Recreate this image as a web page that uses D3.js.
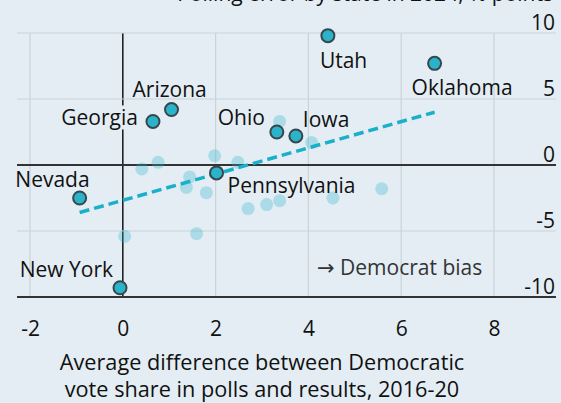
<!DOCTYPE html>
<html>
<head>
<meta charset="utf-8">
<script src="https://cdn.jsdelivr.net/npm/d3@7"></script>
<style>
  body { margin: 0; background: #e3edf3; }
  text { font-family: "Open Sans", sans-serif; }
</style>
</head>
<body>
<div id="chart"></div>
<script>
// named states (highlighted)
let stateNames = ["Utah", "Oklahoma", "Arizona", "Georgia", "Ohio", "Iowa", "Pennsylvania", "Nevada", "New York"];
let stateX = [4.42, 6.72, 1.05, 0.65, 3.32, 3.73, 2.02, -0.93, -0.06];
let stateY = [9.8, 7.7, 4.2, 3.3, 2.5, 2.2, -0.6, -2.5, -9.3];

// other states (faded)
let otherX = [0.41, 0.76, 1.98, 2.48, 1.44, 1.37, 1.80, 0.04, 1.59, 2.70, 3.10, 3.38, 4.53, 5.58, 4.07, 3.38];
let otherY = [-0.3, 0.2, 0.7, 0.2, -0.9, -1.7, -2.1, -5.4, -5.2, -3.3, -3.0, -2.7, -2.5, -1.8, 1.7, 3.3];

// fitted trend line end points
let trendX = [-0.93, 6.72];
let trendY = [-3.6, 4.0];

let xTicks = [-2, 0, 2, 4, 6, 8];
let yTicks = [-10, -5, 0, 5, 10];

let width = 561;
let height = 403;

// label placement relative to each point
let labelPos = {
    "Utah":         {dx: -8,  dy: 32,  anchor: "start"},
    "Oklahoma":     {dx: -23, dy: 32,  anchor: "start"},
    "Arizona":      {dx: -39, dy: -13, anchor: "start"},
    "Georgia":      {dx: -15, dy: 4,   anchor: "end"},
    "Ohio":         {dx: -12, dy: -7,  anchor: "end"},
    "Iowa":         {dx: 7,   dy: -9,  anchor: "start"},
    "Pennsylvania": {dx: 11,  dy: 20,  anchor: "start"},
    "Nevada":       {dx: 10,  dy: -11, anchor: "end"},
    "New York":     {dx: -7,  dy: -11, anchor: "end"}
};

let xScale = d3.scaleLinear().domain([-2, 8]).range([30, 494]);
let yScale = d3.scaleLinear().domain([-10, 10]).range([297, 33]);

let svg = d3.select("#chart").append("svg")
    .attr("width", width).attr("height", height);

svg.append("rect").attr("width", width).attr("height", height).attr("fill", "#e3edf3");

// clipped axis title at the very top (only its bottom edge shows)
svg.append("text")
    .attr("x", 553).attr("y", 1)
    .attr("text-anchor", "end")
    .style("font-size", "21px")
    .attr("fill", "#111")
    .text("Polling error by state in 2024, % points");

// gridlines
svg.selectAll(".vgrid")
    .data(xTicks)
    .enter().append("line")
    .attr("x1", d => xScale(d)).attr("x2", d => xScale(d))
    .attr("y1", yScale(10)).attr("y2", yScale(-10))
    .attr("stroke", d => d == 0 ? "#222" : "#c9d3d9")
    .attr("stroke-width", d => d == 0 ? 1.6 : 1.2);

svg.selectAll(".hgrid")
    .data(yTicks)
    .enter().append("line")
    .attr("x1", 17).attr("x2", 556)
    .attr("y1", d => yScale(d)).attr("y2", d => yScale(d))
    .attr("stroke", d => (d == 0 || d == -10) ? "#333" : "#c9d3d9")
    .attr("stroke-width", d => (d == 0 || d == -10) ? 1.8 : 1.2);

// faded points
svg.selectAll(".other")
    .data(otherX)
    .enter().append("circle")
    .attr("cx", d => xScale(d))
    .attr("cy", (d, i) => yScale(otherY[i]))
    .attr("r", 6.5)
    .attr("fill", "#2ab3c9")
    .attr("fill-opacity", 0.3);

// trend line
svg.append("line")
    .attr("x1", xScale(trendX[0])).attr("y1", yScale(trendY[0]))
    .attr("x2", xScale(trendX[1])).attr("y2", yScale(trendY[1]))
    .attr("stroke", "#1bafca")
    .attr("stroke-width", 3.5)
    .attr("stroke-dasharray", "10,5");

// labels, Georgia gets a background box that hides the zero line
let labels = svg.append("g");
stateNames.forEach(function (name, i) {
    let p = labelPos[name];
    let g = labels.append("g");
    let t = g.append("text")
        .attr("x", xScale(stateX[i]) + p.dx)
        .attr("y", yScale(stateY[i]) + p.dy)
        .attr("text-anchor", p.anchor)
        .style("font-size", "21px")
        .attr("fill", "#111")
        .text(name);
    if (name == "Georgia") {
        let b = t.node().getBBox();
        g.insert("rect", "text")
            .attr("x", b.x - 2).attr("y", b.y + 2)
            .attr("width", b.width + 4).attr("height", b.height - 4)
            .attr("fill", "#e3edf3");
    }
});

// highlighted points
svg.selectAll(".state")
    .data(stateX)
    .enter().append("circle")
    .attr("cx", d => xScale(d))
    .attr("cy", (d, i) => yScale(stateY[i]))
    .attr("r", 6.5)
    .attr("fill", "#2ab3c9")
    .attr("stroke", "#38474d")
    .attr("stroke-width", 2);

// annotation
let note = svg.append("text")
    .attr("x", 317).attr("y", 275)
    .style("font-size", "21px")
    .attr("fill", "#333");
note.append("tspan").style("font-family", "DejaVu Sans").text("\u2192");
note.append("tspan").text(" Democrat bias");

// axes
let xAxis = svg.append("g")
    .attr("transform", `translate(0, 320)`)
    .call(d3.axisBottom(xScale).tickValues(xTicks).tickFormat(d => String(d)).tickSize(0).tickPadding(0));
xAxis.select(".domain").remove();
xAxis.selectAll("text")
    .attr("dy", "0.75em")
    .style("font-size", "21px")
    .style("font-family", "Open Sans, sans-serif")
    .attr("fill", "#111");

let yAxis = svg.append("g")
    .attr("transform", `translate(555, 0)`)
    .call(d3.axisLeft(yScale).tickValues(yTicks).tickFormat(d => String(d)).tickSize(0).tickPadding(0));
yAxis.select(".domain").remove();
yAxis.selectAll("text")
    .attr("dy", "-0.15em")
    .style("font-size", "21px")
    .style("font-family", "Open Sans, sans-serif")
    .attr("fill", "#111");

// x axis title
svg.append("text")
    .attr("x", 262).attr("y", 370)
    .attr("text-anchor", "middle")
    .style("font-size", "21.7px")
    .attr("fill", "#111")
    .text("Average difference between Democratic");
svg.append("text")
    .attr("x", 262).attr("y", 397)
    .attr("text-anchor", "middle")
    .style("font-size", "21.7px")
    .attr("fill", "#111")
    .text("vote share in polls and results, 2016-20");
</script>
</body>
</html>
